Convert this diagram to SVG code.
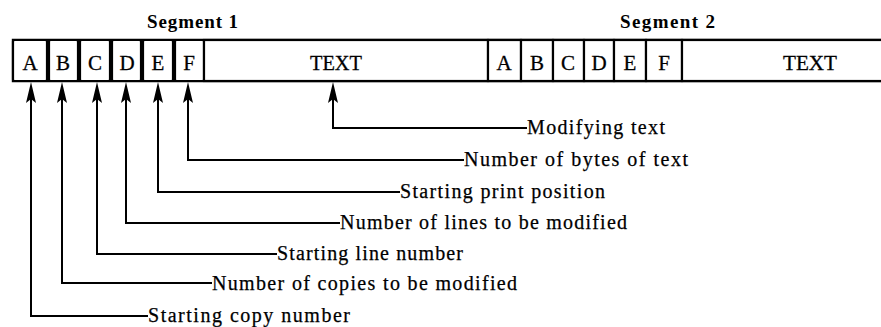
<svg xmlns="http://www.w3.org/2000/svg" width="881" height="327" viewBox="0 0 881 327">
<style>
.cell{fill:#fff;stroke:#000;stroke-width:2.2}
.strip{fill:none;stroke:#000;stroke-width:2.4}
.lt{font-family:"Liberation Serif",serif;font-size:21px;fill:#000;text-anchor:middle;stroke:#000;stroke-width:0.3}
.seg{font-family:"Liberation Serif",serif;font-size:19px;font-weight:bold;fill:#000}
.lab{font-family:"Liberation Serif",serif;font-size:20px;fill:#000;stroke:#000;stroke-width:0.25}
.conn{fill:none;stroke:#000;stroke-width:2}
.ah{fill:#000;stroke:none}
</style>
<rect width="881" height="327" fill="#fff"/>
<g id="strip">
<path class="strip" d="M 884 40 L 13 40 L 13 81 L 884 81"/>
</g>
<text class="seg" x="147" y="28" textLength="91" lengthAdjust="spacing">Segment 1</text>
<text class="seg" x="620" y="28" textLength="95" lengthAdjust="spacing">Segment 2</text>
<g id="s1A"><rect class="cell" x="13" y="40" width="34" height="41" rx="1.5"/><text class="lt" x="30" y="70">A</text></g>
<g id="s1B"><rect class="cell" x="49" y="40" width="29" height="41" rx="1.5"/><text class="lt" x="63" y="70">B</text></g>
<g id="s1C"><rect class="cell" x="80" y="40" width="30" height="41" rx="1.5"/><text class="lt" x="95" y="70">C</text></g>
<g id="s1D"><rect class="cell" x="112" y="40" width="29" height="41" rx="1.5"/><text class="lt" x="127" y="70">D</text></g>
<g id="s1E"><rect class="cell" x="143" y="40" width="30" height="41" rx="1.5"/><text class="lt" x="158" y="70">E</text></g>
<g id="s1F"><rect class="cell" x="175" y="40" width="29" height="41" rx="1.5"/><text class="lt" x="189" y="70">F</text></g>
<g id="s1TEXT"><rect class="cell" x="204" y="40" width="284" height="41"/><text class="lt" x="336" y="70" textLength="52" lengthAdjust="spacingAndGlyphs">TEXT</text></g>
<g id="s2A"><rect class="cell" x="488" y="40" width="33" height="41"/><text class="lt" x="504" y="70">A</text></g>
<g id="s2B"><rect class="cell" x="521" y="40" width="32" height="41"/><text class="lt" x="537" y="70">B</text></g>
<g id="s2C"><rect class="cell" x="553" y="40" width="31" height="41"/><text class="lt" x="568" y="70">C</text></g>
<g id="s2D"><rect class="cell" x="584" y="40" width="30" height="41"/><text class="lt" x="599" y="70">D</text></g>
<g id="s2E"><rect class="cell" x="614" y="40" width="32" height="41"/><text class="lt" x="630" y="70">E</text></g>
<g id="s2F"><rect class="cell" x="646" y="40" width="36" height="41"/><text class="lt" x="664" y="70">F</text></g>
<g id="s2TEXT"><rect class="cell" x="682" y="40" width="204" height="41"/><text class="lt" x="810" y="70" textLength="54" lengthAdjust="spacingAndGlyphs">TEXT</text></g>
<g id="connectors">
<path class="conn" d="M 31 98 V 316 H 148"/>
<path class="conn" d="M 62 98 V 283 H 212"/>
<path class="conn" d="M 97 98 V 254 H 277"/>
<path class="conn" d="M 126 98 V 223 H 340"/>
<path class="conn" d="M 158 98 V 192 H 400"/>
<path class="conn" d="M 188 98 V 160 H 464"/>
<path class="conn" d="M 333 98 V 128 H 527"/>
<path class="ah" d="M 31 82 L 36 103 L 31 99 L 26 103 Z"/>
<path class="ah" d="M 62 82 L 67 103 L 62 99 L 57 103 Z"/>
<path class="ah" d="M 97 82 L 102 103 L 97 99 L 92 103 Z"/>
<path class="ah" d="M 126 82 L 131 103 L 126 99 L 121 103 Z"/>
<path class="ah" d="M 158 82 L 163 103 L 158 99 L 153 103 Z"/>
<path class="ah" d="M 188 82 L 193 103 L 188 99 L 183 103 Z"/>
<path class="ah" d="M 333 82 L 338 103 L 333 99 L 328 103 Z"/>
</g>
<g id="lblModText"><text class="lab" x="527" y="134" textLength="138" lengthAdjust="spacing">Modifying text</text></g>
<g id="lblBytes"><text class="lab" x="464" y="166" textLength="224" lengthAdjust="spacing">Number of bytes of text</text></g>
<g id="lblPrintPos"><text class="lab" x="400" y="198" textLength="205" lengthAdjust="spacing">Starting print position</text></g>
<g id="lblLines"><text class="lab" x="340" y="229" textLength="287" lengthAdjust="spacing">Number of lines to be modified</text></g>
<g id="lblLineNum"><text class="lab" x="277" y="260" textLength="186" lengthAdjust="spacing">Starting line number</text></g>
<g id="lblCopies"><text class="lab" x="212" y="290" textLength="305" lengthAdjust="spacing">Number of copies to be modified</text></g>
<g id="lblCopyNum"><text class="lab" x="148" y="322" textLength="202" lengthAdjust="spacing">Starting copy number</text></g>
</svg>
